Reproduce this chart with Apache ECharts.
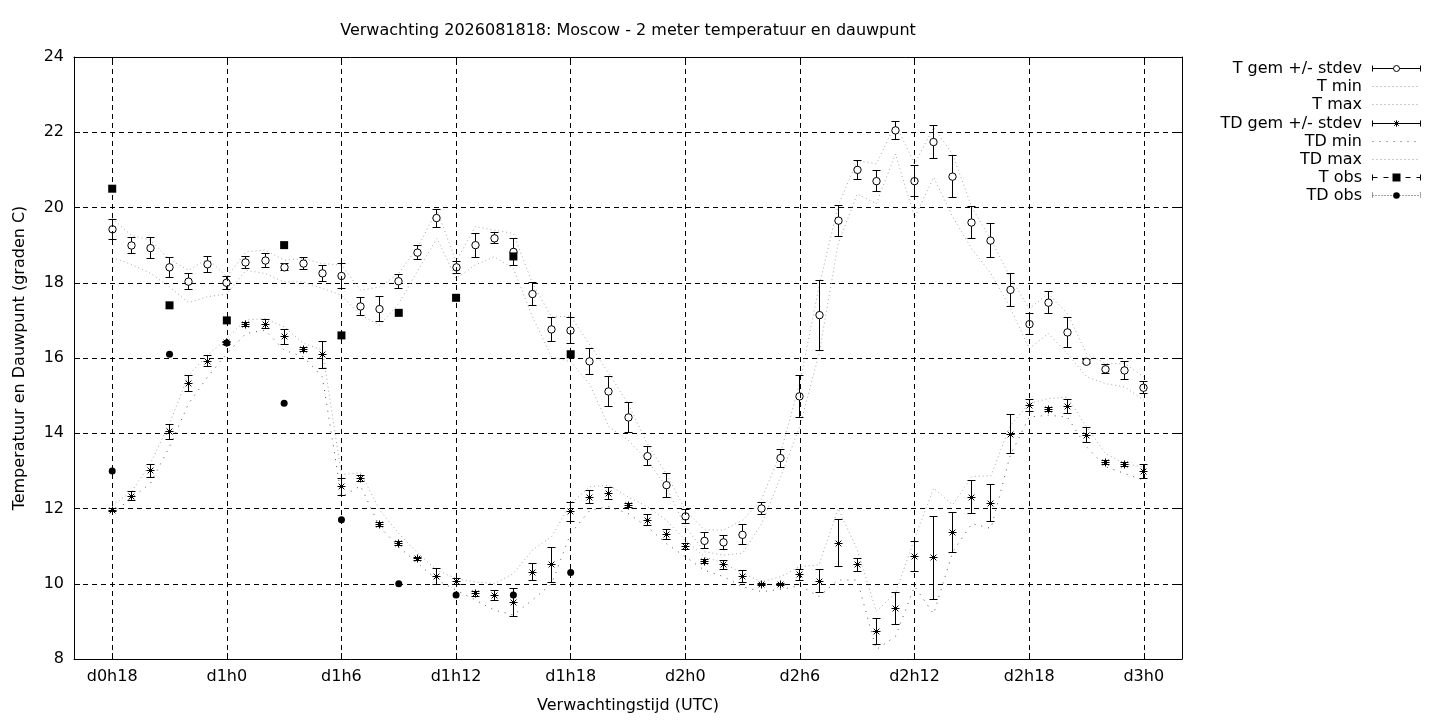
<!DOCTYPE html>
<html>
<head>
<meta charset="utf-8">
<title>Verwachting 2026081818: Moscow</title>
<script src="https://cdn.jsdelivr.net/npm/echarts@6/dist/echarts.min.js"></script>
<style>
html, body { margin: 0; padding: 0; background: #fff; }
#chart { width: 1440px; height: 720px; }
</style>
</head>
<body>
<div id="chart"></div>
<script>
// forecast hours since d0h0
var hours = [18, 19, 20, 21, 22, 23, 24, 25, 26, 27, 28, 29, 30, 31, 32, 33, 34, 35, 36, 37,
             38, 39, 40, 41, 42, 43, 44, 45, 46, 47, 48, 49, 50, 51, 52, 53, 54, 55, 56, 57,
             58, 59, 60, 61, 62, 63, 64, 65, 66, 67, 68, 69, 70, 71, 72];

var tickHours = [18, 24, 30, 36, 42, 48, 54, 60, 66, 72];
var tickLabels = ['d0h18', 'd1h0', 'd1h6', 'd1h12', 'd1h18', 'd2h0', 'd2h6', 'd2h12', 'd2h18', 'd3h0'];

// 2 m temperature, ensemble mean and stdev
var tMean = [19.42, 18.99, 18.92, 18.41, 18.03, 18.49, 18.00, 18.54, 18.59, 18.41,
             18.51, 18.25, 18.18, 17.37, 17.30, 18.04, 18.80, 19.72, 18.41, 19.00,
             19.18, 18.82, 17.70, 16.76, 16.73, 15.91, 15.11, 14.42, 13.39, 12.62,
             11.79, 11.14, 11.10, 11.30, 12.00, 13.34, 14.98, 17.14, 19.65, 21.00,
             20.70, 22.05, 20.70, 21.74, 20.82, 19.60, 19.12, 17.81, 16.90, 17.47,
             16.68, 15.90, 15.70, 15.67, 15.21];
var tSd = [0.26, 0.20, 0.27, 0.26, 0.22, 0.22, 0.17, 0.15, 0.19, 0.09,
           0.17, 0.22, 0.34, 0.23, 0.34, 0.19, 0.19, 0.24, 0.16, 0.32,
           0.15, 0.35, 0.30, 0.31, 0.35, 0.35, 0.40, 0.41, 0.25, 0.32,
           0.19, 0.21, 0.19, 0.27, 0.17, 0.24, 0.55, 0.93, 0.41, 0.25,
           0.28, 0.23, 0.42, 0.43, 0.56, 0.42, 0.45, 0.43, 0.28, 0.29,
           0.40, 0.05, 0.12, 0.23, 0.16];
var tMin = [18.67, 18.49, 18.25, 17.89, 17.47, 17.63, 17.70, 18.33, 18.25, 18.02,
            18.02, 17.85, 17.67, 17.14, 16.87, 17.45, 18.33, 19.18, 18.11, 18.47,
            18.69, 18.38, 17.09, 16.03, 15.90, 15.30, 14.17, 13.82, 13.29, 12.58,
            11.52, 10.85, 10.76, 10.81, 11.60, 12.85, 14.20, 16.10, 19.04, 20.36,
            20.10, 21.42, 19.74, 20.80, 19.75, 18.90, 18.24, 17.35, 16.25, 16.65,
            16.12, 15.50, 15.32, 15.23, 14.88];
var tMax = [19.71, 19.26, 19.13, 18.62, 18.33, 18.64, 18.16, 18.82, 18.87, 18.60,
            18.64, 18.51, 18.47, 17.80, 17.89, 18.25, 18.95, 19.93, 18.56, 19.49,
            19.40, 19.31, 17.98, 17.09, 17.11, 16.35, 15.59, 14.79, 13.73, 12.93,
            11.96, 11.43, 11.43, 11.69, 12.25, 13.50, 15.35, 17.90, 20.05, 21.25,
            21.16, 22.22, 21.16, 22.13, 21.40, 20.00, 19.15, 18.15, 17.31, 17.71,
            17.18, 16.12, 15.85, 15.85, 15.50];

// dew point, ensemble mean and stdev
var tdMean = [11.96, 12.33, 13.00, 14.04, 15.32, 15.92, 16.40, 16.90, 16.90, 16.56,
              16.23, 16.08, 12.58, 12.80, 11.58, 11.07, 10.66, 10.20, 10.05, 9.73,
              9.69, 9.50, 10.31, 10.50, 11.91, 12.30, 12.40, 12.07, 11.69, 11.31,
              11.00, 10.60, 10.50, 10.19, 9.98, 9.98, 10.24, 10.07, 11.08, 10.50,
              8.73, 9.34, 10.72, 10.69, 11.37, 12.30, 12.14, 13.97, 14.74, 14.63,
              14.72, 13.95, 13.22, 13.17, 12.99];
var tdSd = [0.05, 0.13, 0.18, 0.20, 0.22, 0.15, 0.05, 0.05, 0.11, 0.20,
            0.05, 0.35, 0.23, 0.08, 0.05, 0.05, 0.05, 0.21, 0.08, 0.07,
            0.14, 0.38, 0.22, 0.47, 0.25, 0.18, 0.17, 0.05, 0.15, 0.13,
            0.08, 0.05, 0.12, 0.15, 0.03, 0.03, 0.15, 0.30, 0.62, 0.18,
            0.35, 0.42, 0.40, 1.10, 0.53, 0.44, 0.49, 0.52, 0.16, 0.05,
            0.19, 0.20, 0.05, 0.05, 0.19];
var tdMin = [11.87, 12.27, 12.67, 13.64, 14.79, 15.50, 16.12, 16.65, 16.74, 16.21,
             16.03, 15.50, 12.31, 12.60, 11.51, 10.98, 10.54, 10.10, 9.83, 9.57,
             9.30, 9.17, 9.57, 10.00, 11.34, 11.95, 12.05, 11.87, 11.52, 11.07,
             10.72, 10.36, 10.19, 9.92, 9.79, 9.85, 9.95, 9.66, 10.10, 10.10,
             8.25, 8.60, 9.93, 9.20, 10.85, 11.60, 11.47, 13.40, 14.43, 14.48,
             14.43, 13.64, 13.11, 12.93, 12.75];
var tdMax = [12.09, 12.44, 13.20, 14.26, 15.55, 16.08, 16.52, 17.01, 17.05, 16.83,
             16.39, 16.21, 12.90, 12.95, 11.96, 11.34, 10.81, 10.36, 10.14, 10.05,
             10.00, 10.27, 10.90, 11.25, 12.13, 12.58, 12.62, 12.31, 12.05, 11.69,
             11.16, 10.72, 10.54, 10.28, 10.05, 10.19, 10.46, 10.50, 12.00, 10.90,
             9.27, 9.75, 11.20, 12.54, 12.10, 12.85, 12.87, 14.20, 14.79, 14.92,
             14.96, 14.17, 13.46, 13.19, 13.10];

// observations
var obsHours = [18, 21, 24, 27, 30, 33, 36, 39, 42];
var tObs = [20.5, 17.4, 17.0, 19.0, 16.6, 17.2, 17.6, 18.7, 16.1];
var tdObs = [13.0, 16.1, 16.4, 14.8, 11.7, 10.0, 9.7, 9.7, 10.3];

var FONT = 'DejaVu Sans';
var FS = 16;

function pairs(xs, ys) {
    var res = [];
    for (var i = 0; i < xs.length; i++) res.push([xs[i], ys[i]]);
    return res;
}
function triples(xs, ys, es) {
    var res = [];
    for (var i = 0; i < xs.length; i++) res.push([xs[i], ys[i], es[i]]);
    return res;
}
// snap to pixel centre so 1px lines stay crisp
function px(v) { return Math.round(v - 0.5) + 0.5; }
function blk() { return { stroke: '#000', lineWidth: 1, fill: null }; }
function seg(x1, y1, x2, y2, style) {
    return { type: 'line', shape: { x1: x1, y1: y1, x2: x2, y2: y2 }, style: style || blk() };
}
function asterisk(cx, cy, r) {
    var d = r * 0.72;
    return [
        seg(cx - r, cy, cx + r, cy),
        seg(cx, cy - r, cx, cy + r),
        seg(cx - d, cy - d, cx + d, cy + d),
        seg(cx - d, cy + d, cx + d, cy - d)
    ];
}

// error bar with mean marker, drawn through the axes
function errorBar(kind) {
    return function (params, api) {
        var x = api.value(0), m = api.value(1), s = api.value(2);
        var c = api.coord([x, m]);
        var hi = api.coord([x, m + s]);
        var lo = api.coord([x, m - s]);
        var cx = px(c[0]), yh = px(hi[1]), yl = px(lo[1]);
        var w = 4;
        var kids = [
            seg(cx, yh, cx, yl),
            seg(cx - w, yh, cx + w, yh),
            seg(cx - w, yl, cx + w, yl)
        ];
        if (kind === 'circle') {
            kids.push({ type: 'circle', shape: { cx: cx, cy: c[1], r: 3.7 },
                        style: { fill: '#fff', stroke: '#000', lineWidth: 1 } });
        } else {
            kids = kids.concat(asterisk(cx, px(c[1]), 4));
        }
        return { type: 'group', children: kids };
    };
}

function thinLine(name, values, color, dash) {
    return {
        name: name,
        type: 'line',
        data: pairs(hours, values),
        symbol: 'none',
        silent: true,
        z: 2,
        lineStyle: { color: color, width: 1, type: dash }
    };
}

// legend drawn by hand (text right aligned, sample on the right like gnuplot)
var legendNames = ['T gem +/- stdev', 'T min', 'T max', 'TD gem +/- stdev',
                   'TD min', 'TD max', 'T obs', 'TD obs'];
function legendGraphics() {
    var g = [];
    var tx = 1362, sx1 = 1372.5, sx2 = 1420.5, mx = 1396.5;
    var dotted = function (col, dash) {
        return { stroke: col, lineWidth: 1, lineDash: dash, fill: null };
    };
    for (var i = 0; i < legendNames.length; i++) {
        var y = px(68.5 + 18.2 * i);
        g.push({ type: 'text', x: tx, y: y,
                 style: { text: legendNames[i], font: FS + 'px "DejaVu Sans"', fill: '#000',
                          align: 'right', verticalAlign: 'middle' } });
        if (i === 0 || i === 3) {
            g.push(seg(sx1, y, sx2, y));
            g.push(seg(sx1, y - 3, sx1, y + 3));
            g.push(seg(sx2, y - 3, sx2, y + 3));
            if (i === 0) {
                g.push({ type: 'circle', shape: { cx: mx, cy: y, r: 3 },
                         style: { fill: '#fff', stroke: '#000', lineWidth: 1 } });
            } else {
                g = g.concat(asterisk(mx, y, 3.2));
            }
        } else if (i === 1 || i === 2 || i === 5) {
            g.push(seg(sx1, y, sx2, y, dotted('#9a9a9a', [1, 3])));
        } else if (i === 4) {
            g.push(seg(sx1, y, sx2, y, dotted('#555', [1, 6])));
        } else if (i === 6) {
            g.push(seg(sx1, y, sx2, y, dotted('#000', [5, 6])));
            g.push(seg(sx1, y - 3, sx1, y + 3));
            g.push(seg(sx2, y - 3, sx2, y + 3));
            g.push({ type: 'rect', shape: { x: mx - 4, y: y - 4, width: 8, height: 8 },
                     style: { fill: '#000' } });
        } else {
            g.push(seg(sx1, y, sx2, y, dotted('#444', [1, 2])));
            g.push(seg(sx1, y - 3, sx1, y + 3, dotted('#444', [1, 1])));
            g.push(seg(sx2, y - 3, sx2, y + 3, dotted('#444', [1, 1])));
            g.push({ type: 'circle', shape: { cx: mx, cy: y, r: 3.3 }, style: { fill: '#000' } });
        }
    }
    return g;
}

var chart = echarts.init(document.getElementById('chart'));

var tMinSeries = thinLine('T min', tMin, '#a8a8a8', [1, 3]);
tMinSeries.markLine = {
    silent: true,
    animation: false,
    symbol: ['none', 'none'],
    label: { show: false },
    lineStyle: { color: '#000', width: 1, type: [5, 4] },
    data: tickHours.map(function (h) { return { xAxis: h }; })
};

var option = {
    animation: false,
    backgroundColor: '#fff',
    textStyle: { fontFamily: FONT, color: '#000' },
    title: {
        text: 'Verwachting 2026081818: Moscow - 2 meter temperatuur en dauwpunt',
        left: 623,
        textAlign: 'center',
        top: 18,
        textStyle: { fontFamily: FONT, fontSize: FS, fontWeight: 'normal', color: '#000' }
    },
    grid: { left: 74, right: 258, top: 57, bottom: 61, outerBoundsMode: 'none' },
    xAxis: [{
        type: 'value',
        position: 'bottom',
        min: 16,
        max: 74,
        name: 'Verwachtingstijd (UTC)',
        nameLocation: 'middle',
        nameGap: 39,
        nameTextStyle: { fontFamily: FONT, fontSize: FS, color: '#000' },
        axisLine: { show: true, onZero: false, lineStyle: { color: '#000', width: 1 } },
        axisTick: { show: true, inside: true, length: 6, customValues: tickHours,
                    lineStyle: { color: '#000' } },
        axisLabel: {
            customValues: tickHours,
            margin: 10,
            fontFamily: FONT, fontSize: FS, color: '#000',
            formatter: function (v) { return tickLabels[tickHours.indexOf(v)]; }
        },
        splitLine: { show: false }
    }, {
        type: 'value',
        position: 'top',
        min: 16,
        max: 74,
        axisLine: { show: true, onZero: false, lineStyle: { color: '#000', width: 1 } },
        axisTick: { show: true, inside: true, length: 6, customValues: tickHours,
                    lineStyle: { color: '#000' } },
        axisLabel: { show: false },
        splitLine: { show: false }
    }],
    yAxis: [{
        type: 'value',
        position: 'left',
        min: 8,
        max: 24,
        interval: 2,
        name: 'Temperatuur en Dauwpunt (graden C)',
        nameLocation: 'middle',
        nameRotate: 90,
        nameGap: 46,
        nameTextStyle: { fontFamily: FONT, fontSize: FS, color: '#000' },
        axisLine: { show: true, onZero: false, lineStyle: { color: '#000', width: 1 } },
        axisTick: { show: true, inside: true, length: 6, lineStyle: { color: '#000' } },
        axisLabel: { margin: 10, fontFamily: FONT, fontSize: FS, color: '#000' },
        splitLine: { show: true, showMinLine: false, showMaxLine: false,
                     lineStyle: { color: '#000', width: 1, type: [5, 4] } }
    }, {
        type: 'value',
        position: 'right',
        min: 8,
        max: 24,
        interval: 2,
        axisLine: { show: true, onZero: false, lineStyle: { color: '#000', width: 1 } },
        axisTick: { show: true, inside: true, length: 6, lineStyle: { color: '#000' } },
        axisLabel: { show: false },
        splitLine: { show: false }
    }],
    graphic: legendGraphics(),
    series: [
        tMinSeries,
        thinLine('T max', tMax, '#a8a8a8', [1, 3]),
        thinLine('TD min', tdMin, '#555555', [1, 6]),
        thinLine('TD max', tdMax, '#a8a8a8', [1, 3]),
        {
            name: 'T gem +/- stdev',
            type: 'custom',
            renderItem: errorBar('circle'),
            encode: { x: 0, y: 1 },
            data: triples(hours, tMean, tSd),
            silent: true,
            z: 4
        },
        {
            name: 'TD gem +/- stdev',
            type: 'custom',
            renderItem: errorBar('star'),
            encode: { x: 0, y: 1 },
            data: triples(hours, tdMean, tdSd),
            silent: true,
            z: 4
        },
        {
            name: 'T obs',
            type: 'scatter',
            data: pairs(obsHours, tObs),
            symbol: 'rect',
            symbolSize: 8,
            itemStyle: { color: '#000', opacity: 1 },
            silent: true,
            z: 5
        },
        {
            name: 'TD obs',
            type: 'scatter',
            data: pairs(obsHours, tdObs),
            symbol: 'circle',
            symbolSize: 7,
            itemStyle: { color: '#000', opacity: 1 },
            silent: true,
            z: 5
        }
    ]
};

chart.setOption(option);
</script>
</body>
</html>
